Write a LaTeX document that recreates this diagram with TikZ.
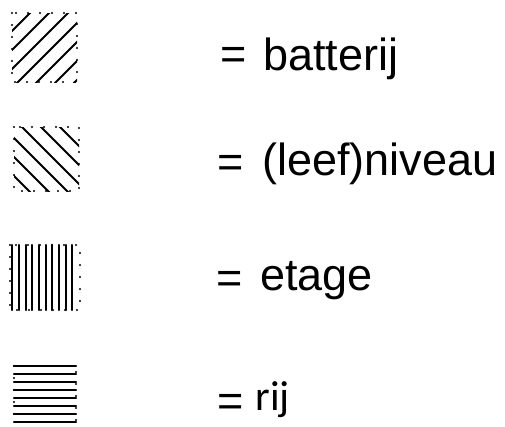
\documentclass[tikz,border=0pt]{standalone}
\usepackage{fontspec}
\setmainfont{Liberation Sans}
\newfontfamily\carl{Carlito}
\begin{document}
\begin{tikzpicture}[x=1pt,y=-1pt,
  hatch/.style={line width=2.1pt,line cap=round},
  dotbox/.style={line width=2.4pt,line cap=round,dash pattern=on 0pt off 12pt},
  eq/.style={inner sep=0pt,anchor=base west,font=\fontsize{45}{50}\selectfont},
  word/.style={inner sep=0pt,anchor=base west,font=\fontsize{45}{50}\selectfont}]
\useasboundingbox (0,0) rectangle (505,426);
% box 1: batterij
\begin{scope}
\clip (12,13) rectangle (77,82);
\foreach \c in {43,62,81,100,119,138,157}
  \draw[hatch] (\c-200,200) -- (\c+200,-200);
\end{scope}
\draw[dotbox] (12,13) rectangle (77,82);
% box 2: niveau
\begin{scope}
\clip (14,127) rectangle (79,191);
\foreach \d in {-49,-30,-11,8,27,46}
  \draw[hatch] ({\d-113},0) -- ({\d-113+300},300);
\end{scope}
\draw[dotbox] (14,127) rectangle (79,191);
% box 3: etage
\foreach \i in {0,...,9}
  \draw[hatch] ({12.3+6.67*\i},245) -- ({12.3+6.67*\i},310);
\draw[dotbox] (10,245) rectangle (80,310);
% box 4: rij
\foreach \i in {0,...,7}
  \draw[hatch] (14,{366+8*\i}) -- (76,{366+8*\i});
\draw[dotbox] (14,366) rectangle (76,422);
% labels
\node[eq] (e1) at (220.5,69) {=};
\node[word] (t1) at (263,70) {batterij};
\node[eq] (e2) at (217.5,177) {=};
\node[word] (t2) at (262,175) {(leef)niveau};
\node[eq] (e3) at (216.5,293) {=};
\node[word] (t3) at (260,290) {etage};
\node[eq] (e4) at (217.5,416) {=};
\node[word,font=\carl\fontsize{42}{46}\selectfont] (t4) at (255.5,410) {rij};
\end{tikzpicture}
\end{document}
